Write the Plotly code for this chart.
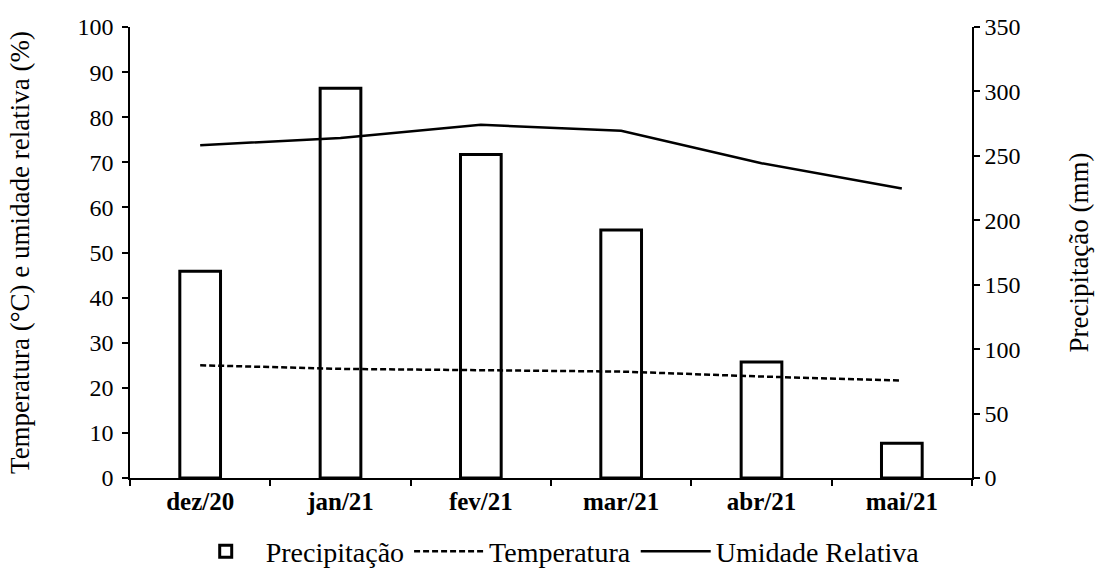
import plotly.graph_objects as go

months = ["dez/20", "jan/21", "fev/21", "mar/21", "abr/21", "mai/21"]
precipitacao = [160.5, 302.5, 251.0, 192.5, 90.0, 27.0]
temperatura = [25.0, 24.2, 23.9, 23.6, 22.5, 21.6]
umidade = [73.8, 75.4, 78.3, 77.0, 69.8, 64.2]
left_ticks = list(range(0, 101, 10))
right_ticks = list(range(0, 351, 50))

FONT = "Liberation Serif"

fig = go.Figure()
fig.add_trace(go.Bar(
    x=months, y=precipitacao, name="Precipitação", yaxis="y",
    width=0.29,
    marker=dict(color="white", line=dict(color="black", width=3)),
))
fig.add_trace(go.Scatter(
    x=months, y=temperatura, name="Temperatura", yaxis="y2", mode="lines",
    line=dict(color="black", width=2.5, dash="6px,3px"),
))
fig.add_trace(go.Scatter(
    x=months, y=umidade, name="Umidade Relativa", yaxis="y2", mode="lines",
    line=dict(color="black", width=2.5),
))

fig.update_layout(
    width=1099, height=583,
    margin=dict(l=130, r=127, t=27, b=105, autoexpand=False),
    paper_bgcolor="white", plot_bgcolor="white",
    font=dict(family=FONT, size=24, color="black"),
    showlegend=True,
    legend=dict(orientation="h", x=0.505, xanchor="center", y=-0.163, yanchor="middle",
                font=dict(family=FONT, size=28), traceorder="normal",
                itemwidth=70),
    xaxis=dict(
        type="category", showline=True, linecolor="black", linewidth=1.5,
        ticks="outside", tickson="boundaries", ticklen=6, tickcolor="black", tickwidth=1.5,
        tickfont=dict(family=FONT, size=25, color="black", weight="bold"),
        showgrid=False, zeroline=False, automargin=False,
    ),
    yaxis=dict(
        side="right", range=[0, 350], tickvals=right_ticks,
        showline=True, linecolor="black", linewidth=1.5,
        ticks="outside", ticklen=6, tickcolor="black", tickwidth=1.5,
        showgrid=False, zeroline=False, automargin=False,
        title=dict(text="Precipitação (mm)", font=dict(family=FONT, size=27), standoff=50),
        tickfont=dict(family=FONT, size=24),
    ),
    yaxis2=dict(
        side="left", overlaying="y", range=[0, 100], tickvals=left_ticks,
        showline=True, linecolor="black", linewidth=1.5,
        ticks="outside", ticklen=6, tickcolor="black", tickwidth=1.5,
        ticklabelstandoff=4,
        showgrid=False, zeroline=False, automargin=False,
        title=dict(text="Temperatura (°C) e umidade relativa (%)", font=dict(family=FONT, size=27), standoff=40),
        tickfont=dict(family=FONT, size=24),
    ),
)

fig.write_html("out.html")
